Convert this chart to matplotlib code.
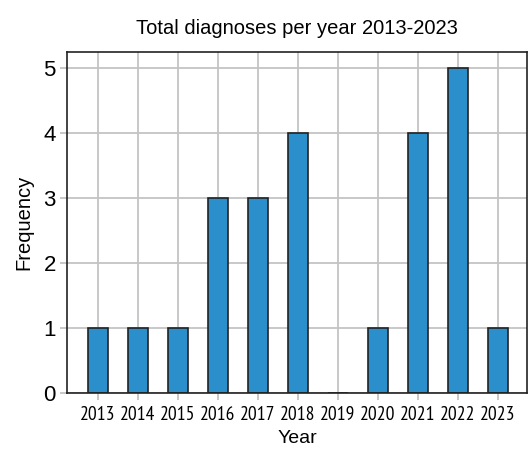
import matplotlib
matplotlib.use("Agg")
import matplotlib.pyplot as plt

years = ["2013", "2014", "2015", "2016", "2017", "2018", "2019", "2020", "2021", "2022", "2023"]
counts = [1, 1, 1, 3, 3, 4, 0, 1, 4, 5, 1]
yticks = [0, 1, 2, 3, 4, 5]

plt.rcParams['font.family'] = ['Liberation Sans', 'DejaVu Sans']

fig = plt.figure(figsize=(5.30, 4.51), dpi=100)
ax = fig.add_axes([0.1264, 0.1286, 0.8679, 0.7561])
x = list(range(len(years)))
ax.bar(x, counts, width=0.5, color="#2b8fcb", edgecolor="#222222", linewidth=1.2, zorder=3)
ax.set_xlim(-0.77, 10.73)
ax.set_ylim(0, 5.25)
ax.set_xticks(x)
ax.set_xticklabels(years, fontsize=14, family=['PT Sans Narrow', 'Liberation Sans', 'DejaVu Sans'])
ax.set_yticks(yticks)
ax.set_yticklabels([str(v) for v in yticks], fontsize=16)
ax.grid(True, color="#c4c4c4", linewidth=1.3, zorder=0)
ax.tick_params(axis="both", direction="out", length=5, width=1.3, color="#c4c4c4", pad=3)
ax.tick_params(axis="x", pad=4)
for s in ax.spines.values():
    s.set_color("#222222")
    s.set_linewidth(1.2)
    s.set_zorder(4)
ax.set_xlabel("Year", fontsize=14, labelpad=5)
ax.set_ylabel("Frequency", fontsize=14.5, labelpad=7)
ax.set_title("Total diagnoses per year 2013-2023", fontsize=14.5, pad=13)
fig.savefig("out.png", dpi=100)
